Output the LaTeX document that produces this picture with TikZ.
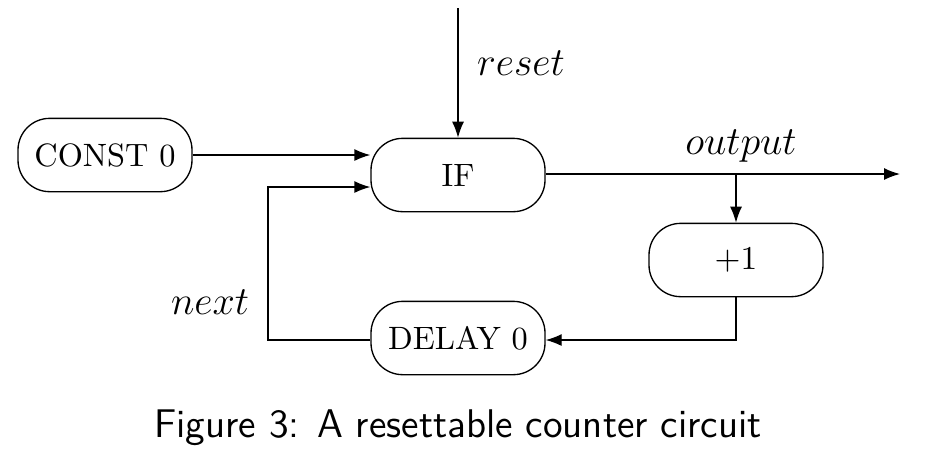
\documentclass[tikz,border=0pt]{standalone}
\usetikzlibrary{arrows.meta}
\begin{document}
\begin{tikzpicture}[x=0.3pt,y=-0.3pt,
  blockbox/.style={draw,rounded corners=9.5pt,minimum width=52.2pt,minimum height=22pt,inner sep=0pt,font=\fontsize{9.7}{11}\selectfont},
  wire/.style={-{Latex[length=4.8pt,width=3.6pt]}},
  lbl/.style={inner sep=0pt,font=\large}]
\useasboundingbox (0,0) rectangle (930,460);
\node[blockbox] (const) at (105,155) {CONST 0};
\node[blockbox] (if) at (458,175) {IF};
\node[blockbox] (inc) at (736,260) {$+1$};
\node[blockbox] (delay) at (458,338) {DELAY 0};
\coordinate (rtop) at (458,8);
\coordinate (outend) at (900,174);
\coordinate (split) at (736,174);
\coordinate (dcorner) at (736,340);
\coordinate (ncornerA) at (268,340);
\coordinate (ncornerB) at (268,187);
\draw[wire] (rtop) -- (if.north);
\draw[wire] (const.east) -- (const.east -| if.west);
\draw[wire] (if.east |- split) -- (outend);
\draw[wire] (split) -- (inc.north);
\draw[wire] (inc.south) -- (dcorner) -- (dcorner -| delay.east);
\draw[wire] (delay.west |- ncornerA) -- (ncornerA) -- (ncornerB) -- (ncornerB -| if.west);
\node[lbl] (lreset) at (521,63) {$reset$};
\node[lbl] (loutput) at (741,146) {$output$};
\node[lbl] (lnext) at (210,302) {$next$};
\node[lbl] (cap) at (458,428) {\sffamily Figure 3: A resettable counter circuit};
\end{tikzpicture}
\end{document}
